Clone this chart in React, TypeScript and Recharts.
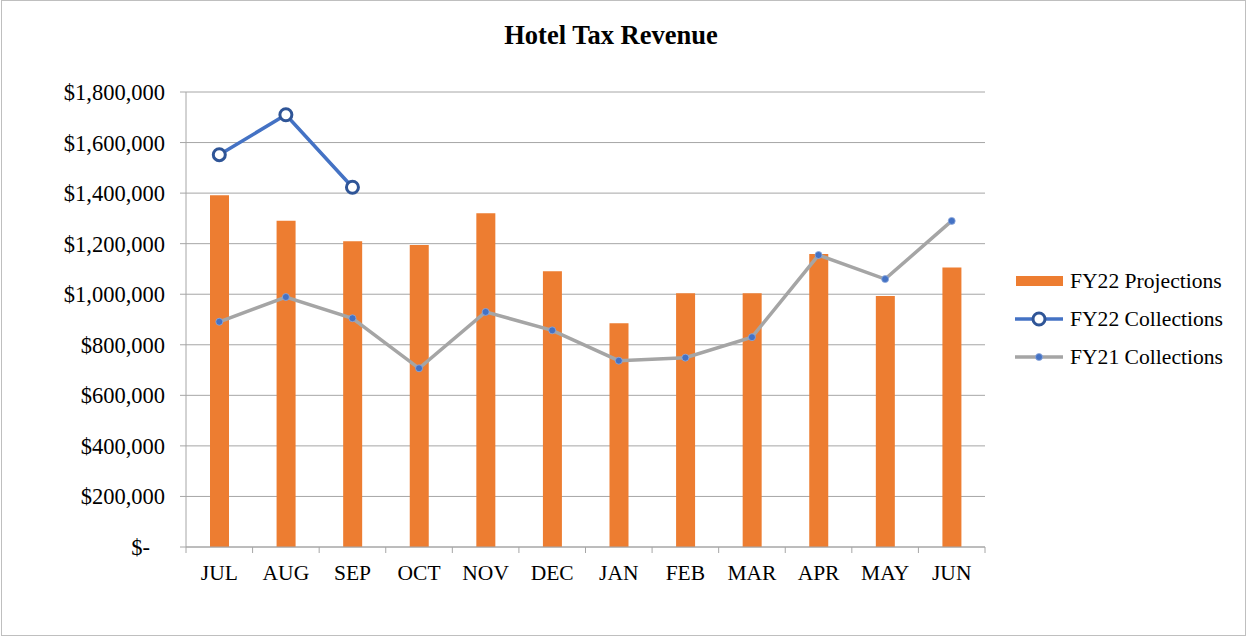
import React from 'react';
import {
  ComposedChart,
  Bar,
  Line,
  XAxis,
  YAxis,
  CartesianGrid,
  Legend,
} from 'recharts';

const CATEGORIES = ['JUL', 'AUG', 'SEP', 'OCT', 'NOV', 'DEC', 'JAN', 'FEB', 'MAR', 'APR', 'MAY', 'JUN'];
const FY22_PROJECTIONS = [1392000, 1291000, 1210000, 1195000, 1320000, 1091000, 885000, 1004000, 1004000, 1159000, 993000, 1106000];
const FY22_COLLECTIONS: (number | null)[] = [1552000, 1710000, 1423000, null, null, null, null, null, null, null, null, null];
const FY21_COLLECTIONS = [891000, 989000, 905000, 707000, 930000, 857000, 737000, 749000, 830000, 1155000, 1060000, 1290000];
const Y_TICKS = [0, 200000, 400000, 600000, 800000, 1000000, 1200000, 1400000, 1600000, 1800000];

const SERIES_NAMES = ['FY22 Projections', 'FY22 Collections', 'FY21 Collections'];

const data = CATEGORIES.map((m, i) => ({
  month: m,
  proj: FY22_PROJECTIONS[i],
  fy22: FY22_COLLECTIONS[i],
  fy21: FY21_COLLECTIONS[i],
}));

const FONT = "'Times New Roman', 'Liberation Serif', serif";
const ORANGE = '#ED7D31';
const BLUE = '#4472C4';
const DARK_BLUE = '#2F5597';
const GRAY = '#A5A5A5';
const AXIS_GRAY = '#A6A6A6';
const X_TICK_SIZE = 6;
const X_TICK_MARGIN = 11;
const FS = 21.6;

const XTick = (props: any) => {
  const { x, y, payload, index } = props;
  const half = payload && typeof payload.offset === 'number' ? payload.offset : 33.25;
  const y0 = y - X_TICK_SIZE - X_TICK_MARGIN;
  return (
    <g>
      <line x1={x - half} x2={x - half} y1={y0} y2={y0 + X_TICK_SIZE} stroke={AXIS_GRAY} strokeWidth={1} />
      {index === CATEGORIES.length - 1 && (
        <line x1={x + half} x2={x + half} y1={y0} y2={y0 + X_TICK_SIZE} stroke={AXIS_GRAY} strokeWidth={1} />
      )}
      <text x={x} y={y + 1} dy="0.71em" textAnchor="middle" fill="#000" fontFamily={FONT} fontSize={21.5}>
        {payload.value}
      </text>
    </g>
  );
};

const YTick = (props: any) => {
  const { x, y, payload } = props;
  const v = payload.value as number;
  const label = v === 0 ? '$-' : '$' + v.toLocaleString('en-US');
  return (
    <text x={v === 0 ? x - 15 : x} y={y} dy="0.355em" textAnchor="end" fill="#000" fontFamily={FONT} fontSize={22.5}>
      {label}
    </text>
  );
};

const LegendContent = () => {
  const rowH = 38;
  return (
    <svg width={232} height={rowH * 3} style={{ display: 'block', overflow: 'visible' }}>
      <g transform={`translate(0, ${rowH / 2})`}>
        <rect x={1} y={-5} width={47} height={10} fill={ORANGE} />
        <text x={55} y={0} dy="0.33em" fontFamily={FONT} fontSize={FS} fill="#000">{SERIES_NAMES[0]}</text>
      </g>
      <g transform={`translate(0, ${rowH * 1.5})`}>
        <line x1={0} x2={48} y1={0} y2={0} stroke={BLUE} strokeWidth={3.5} />
        <circle cx={24} cy={0} r={6} fill="#fff" stroke={DARK_BLUE} strokeWidth={3} />
        <text x={55} y={0} dy="0.33em" fontFamily={FONT} fontSize={FS} fill="#000">{SERIES_NAMES[1]}</text>
      </g>
      <g transform={`translate(0, ${rowH * 2.5})`}>
        <line x1={0} x2={48} y1={0} y2={0} stroke={GRAY} strokeWidth={3.5} />
        <circle cx={24} cy={0} r={3.5} fill={BLUE} stroke="#8FAADC" strokeWidth={0.8} />
        <text x={55} y={0} dy="0.33em" fontFamily={FONT} fontSize={FS} fill="#000">{SERIES_NAMES[2]}</text>
      </g>
    </svg>
  );
};

export default function App() {
  return (
    <div
      style={{
        position: 'absolute',
        left: 0,
        top: 0,
        width: 1247,
        height: 637,
        background: '#fff',
        fontFamily: FONT,
      }}
    >
      <div
        style={{
          position: 'absolute',
          left: 1,
          top: 0,
          width: 1245,
          height: 636,
          border: '1px solid #BFBFBF',
          boxSizing: 'border-box',
        }}
      />
      <div
        style={{
          position: 'absolute',
          left: 0,
          top: 18,
          width: 1222,
          textAlign: 'center',
          fontFamily: FONT,
          fontWeight: 'bold',
          fontSize: 26.5,
          lineHeight: '34px',
          color: '#000',
        }}
      >
        Hotel Tax Revenue
      </div>
      <ComposedChart
        width={1247}
        height={637}
        data={data}
        margin={{ top: 92, right: 262, bottom: 50, left: 0 }}
        style={{ position: 'absolute', left: 0, top: 0 }}
      >
        <CartesianGrid vertical={false} stroke={AXIS_GRAY} strokeWidth={1} />
        <XAxis
          dataKey="month"
          height={40}
          axisLine={{ stroke: AXIS_GRAY, strokeWidth: 1 }}
          tickLine={false}
          tickSize={X_TICK_SIZE}
          tickMargin={X_TICK_MARGIN}
          tick={<XTick />}
          interval={0}
        />
        <YAxis
          width={186}
          domain={[0, 1800000]}
          ticks={Y_TICKS}
          interval={0}
          axisLine={{ stroke: AXIS_GRAY, strokeWidth: 1 }}
          tickLine={{ stroke: AXIS_GRAY, strokeWidth: 1 }}
          tickSize={6}
          tickMargin={15}
          tick={<YTick />}
        />
        <Legend
          layout="horizontal"
          align="center"
          verticalAlign="middle"
          content={<LegendContent />}
          wrapperStyle={{ position: 'absolute', left: 1015, top: 262, width: 232 }}
        />
        <Bar dataKey="proj" name={SERIES_NAMES[0]} fill={ORANGE} barSize={19} isAnimationActive={false} />
        <Line
          dataKey="fy22"
          name={SERIES_NAMES[1]}
          stroke={BLUE}
          strokeWidth={3.5}
          dot={{ r: 6, stroke: DARK_BLUE, strokeWidth: 3, fill: '#fff' }}
          activeDot={false}
          connectNulls={false}
          isAnimationActive={false}
        />
        <Line
          dataKey="fy21"
          name={SERIES_NAMES[2]}
          stroke={GRAY}
          strokeWidth={3.5}
          dot={{ r: 3.5, stroke: '#8FAADC', strokeWidth: 0.8, fill: BLUE }}
          activeDot={false}
          isAnimationActive={false}
        />
      </ComposedChart>
    </div>
  );
}
